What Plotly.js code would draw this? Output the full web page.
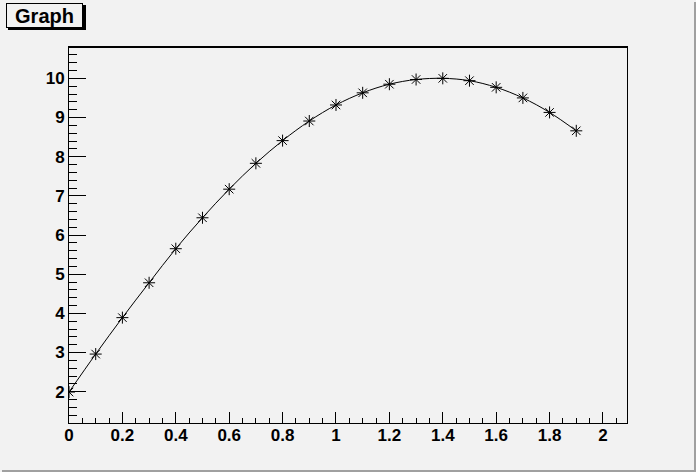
<!DOCTYPE html>
<html>
<head>
<meta charset="utf-8">
<script src="https://cdn.plot.ly/plotly-3.0.1.min.js"></script>
<style>
html,body{margin:0;padding:0;background:#f2f2f2;}
#wrap{position:relative;width:696px;height:472px;overflow:hidden;}
#chart{position:absolute;left:0;top:0;width:696px;height:472px;}
.edge{position:absolute;background:#a0a0a0;}
</style>
</head>
<body>
<div id="wrap">
<div id="chart"></div>
<div class="edge" style="left:694px;top:2px;width:2px;height:470px;"></div>
<div class="edge" style="left:2px;top:470px;width:694px;height:2px;"></div>
</div>
<script>
const titleText = "Graph";
const xValues = [0, 0.1, 0.2, 0.3, 0.4, 0.5, 0.6, 0.7, 0.8, 0.9, 1.0, 1.1, 1.2, 1.3, 1.4, 1.5, 1.6, 1.7, 1.8, 1.9];
const yValues = [1.99, 2.96, 3.89, 4.78, 5.65, 6.44, 7.17, 7.83, 8.41, 8.91, 9.32, 9.63, 9.85, 9.97, 10.0, 9.94, 9.77, 9.5, 9.13, 8.66];
const xRange = [0, 2.09];
const yRange = [1.2, 10.8];

const tickFont = {family: "Liberation Sans, Arial, sans-serif", size: 17, color: "#000", weight: "bold"};

const trace = {
  x: xValues, y: yValues, type: "scatter", mode: "lines+markers",
  line: {color: "#000", width: 1, shape: "spline", smoothing: 1},
  marker: {symbol: "asterisk-open", size: 10, color: "#000", line: {color: "#000", width: 1}},
  hoverinfo: "skip"
};

const plotW = 558, plotH = 376, plotL = 69, plotB = 423;
function px(x){ return (x - plotL) / plotW; }
function py(y){ return (plotB - y) / plotH; }

const layout = {
  width: 696, height: 472,
  paper_bgcolor: "#f2f2f2", plot_bgcolor: "#f2f2f2",
  margin: {l: 69, r: 69, t: 47, b: 49, pad: 0},
  showlegend: false,
  xaxis: {
    range: xRange, dtick: 0.2, tick0: 0, showgrid: false, zeroline: false,
    ticks: "inside", ticklen: 11, tickwidth: 1, tickcolor: "#000",
    minor: {dtick: 0.05, ticks: "inside", ticklen: 5, tickwidth: 1, tickcolor: "#000"},
    showline: true, linecolor: "#000", linewidth: 1, mirror: true,
    tickfont: tickFont, ticklabelstandoff: -3,
    tickformat: "~g"
  },
  yaxis: {
    range: yRange, dtick: 1, tick0: 0, showgrid: false, zeroline: false,
    ticks: "inside", ticklen: 17, tickwidth: 1, tickcolor: "#000",
    minor: {dtick: 0.2, ticks: "inside", ticklen: 8, tickwidth: 1, tickcolor: "#000"},
    showline: true, linecolor: "#000", linewidth: 1, mirror: true,
    tickfont: tickFont, ticklabelstandoff: 0
  },
  shapes: [
    {type: "line", xref: "paper", yref: "paper", x0: 0, x1: 1, y0: 1, y1: 1, line: {color: "#000", width: 2}},
    {type: "rect", xref: "paper", yref: "paper", x0: px(8), x1: px(86), y0: py(30), y1: py(5),
     fillcolor: "#000", line: {width: 0}, layer: "above"}
  ],
  annotations: [
    {xref: "paper", yref: "paper", x: px(6), y: py(3), xanchor: "left", yanchor: "top",
     text: titleText, showarrow: false, width: 75, height: 23,
     bgcolor: "#f2f2f2", bordercolor: "#000", borderwidth: 1, borderpad: 0,
     font: {family: "Liberation Sans, Arial, sans-serif", size: 20, color: "#000", weight: "bold"}}
  ]
};

Plotly.newPlot("chart", [trace], layout, {displayModeBar: false, staticPlot: true});
</script>
</body>
</html>
